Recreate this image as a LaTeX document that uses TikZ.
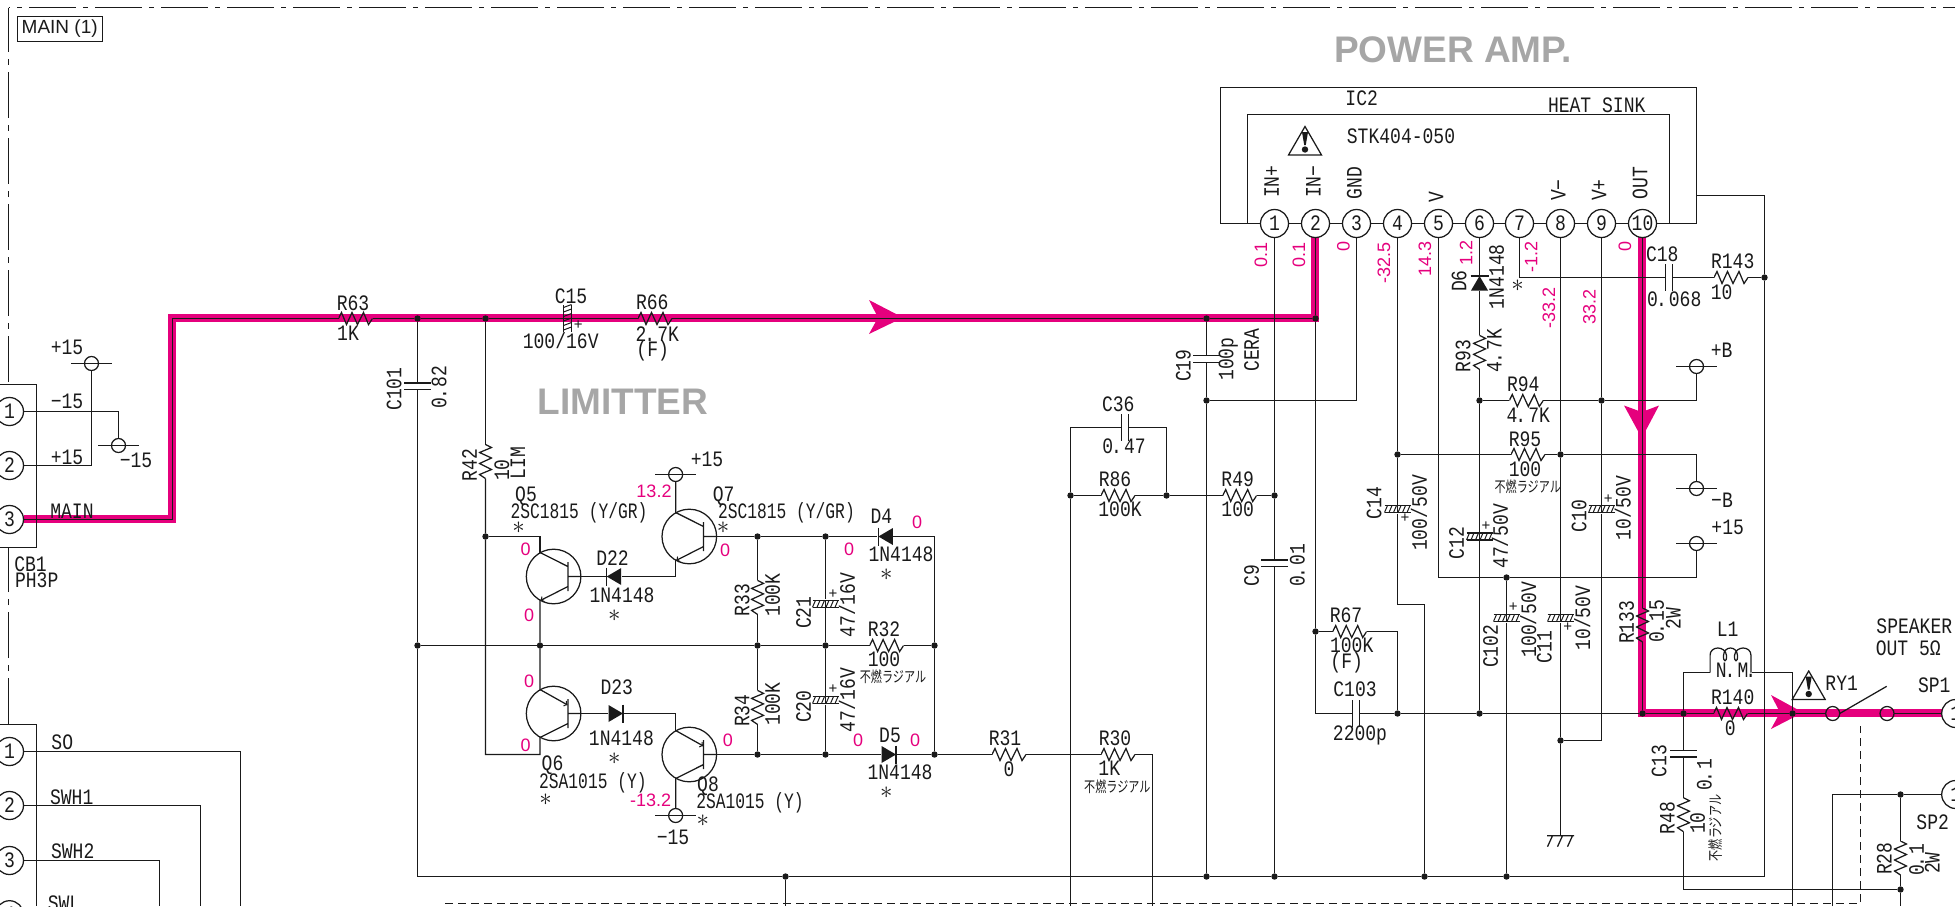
\documentclass[tikz,border=0pt]{standalone}
\usepackage{fontspec}
\newfontfamily\cadfont[FakeStretch=0.82]{Liberation Mono}
\newfontfamily\cadnarrow[FakeStretch=0.74]{Liberation Mono}
\newfontfamily\headfont{Liberation Sans}
\newfontfamily\cjkfont[FakeStretch=0.74]{Noto Sans CJK JP}
\definecolor{hlmag}{HTML}{E5007D}
\definecolor{headgray}{HTML}{A6A6A6}
\definecolor{inkc}{HTML}{1A1A1A}
\newcommand{\dsp}{\kern-2pt.\kern-3.4pt\ \kern-5.4pt}
\tikzset{
  pp/.style={path picture={\begin{scope}[shift={(path picture bounding box.center)}]#1\end{scope}}},
  part/.style={inner sep=0pt,outer sep=0pt},
  dot/.style={part,circle,fill,minimum size=6.4pt},
  pinc/.style={part,circle,draw,fill=white,minimum size=28pt,font=\cadfont\fontsize{22}{22}\selectfont},
  ringc/.style={part,circle,draw,minimum size=14pt},
  resh/.style={part,minimum width=34pt,minimum height=14pt,pp={\draw (-17,0) -- (-14,-6) -- (-9,6) -- (-3.5,-6) -- (2,6) -- (8,-6) -- (13,6) -- (17,0);}},
  resv/.style={part,minimum width=14pt,minimum height=34pt,pp={\draw (0,-17) -- (6,-14) -- (-6,-9) -- (6,-3.5) -- (-6,2) -- (6,8) -- (-6,13) -- (0,17);}},
  capv/.style={part,minimum width=28pt,minimum height=8pt,pp={\draw (-13.5,-3.3) -- (13.5,-3.3) (-13.5,3.3) -- (13.5,3.3);}},
  caph/.style={part,minimum width=8pt,minimum height=28pt,pp={\draw (-3.3,-13.5) -- (-3.3,13.5) (3.3,-13.5) -- (3.3,13.5);}},
  ecapv/.style={part,minimum width=28pt,minimum height=9pt,pp={\draw (-13,-3.5) -- (13,-3.5) (-13,3.5) -- (13,3.5) (0,-4) -- (0,4);
      \foreach \i in {-13,-8.5,...,11} {\draw[line width=1pt] (\i,3.5) -- (\i+3,-3.5);}}},
  ecaph/.style={part,minimum width=9pt,minimum height=28pt,pp={\draw (-4,-13.5) -- (-4,13.5) (4,-13.5) -- (4,13.5) (-4,0) -- (4,0);
      \foreach \i in {-11,-6.5,...,13} {\draw[line width=1pt] (-4,\i) -- (4,\i-3);}}},
  dior/.style={part,minimum width=16pt,minimum height=19pt,pp={\fill (-7.5,-8.5) -- (7,0) -- (-7.5,8.5) -- cycle; \draw (7,-9) -- (7,9);}},
  diol/.style={part,minimum width=16pt,minimum height=19pt,pp={\fill (7.5,-8.5) -- (-7,0) -- (7.5,8.5) -- cycle; \draw (-7,-9) -- (-7,9);}},
  diou/.style={part,minimum width=19pt,minimum height=16pt,pp={\fill (-8.5,7.5) -- (0,-7) -- (8.5,7.5) -- cycle; \draw (-9,-7) -- (9,-7) (0,-7) -- (0,7);}},
  tbar/.style={part,minimum width=41pt,minimum height=15.4pt,pp={\draw (0,0) circle (7); \draw (-20.3,0) -- (20.3,0);}},
  qnpn/.style={part,circle,draw,minimum size=54.6pt,pp={\draw (14.3,-14.5) -- (14.3,14.5) (14.3,0) -- (28,0) (14.3,-10) -- (-13.65,-24);
      \draw[->] (14.3,10) -- (-13.2,24);}},
  qpnp/.style={part,circle,draw,minimum size=54.6pt,pp={\draw (14.3,-14.5) -- (14.3,14.5) (14.3,0) -- (28,0) (14.3,10) -- (-13.65,24);
      \draw[->] (-13.65,-24) -- (14,-8.5);}},
  warn/.style={part,minimum width=35pt,minimum height=31pt,pp={\draw (-16.5,14) -- (0,-14.5) -- (16.5,14) -- cycle;
      \fill (-3,-9) -- (3,-9) -- (.8,4) -- (-.8,4) -- cycle; \fill (0,8.5) circle (3.2);}},
  gndc/.style={part,minimum width=28pt,minimum height=12pt,pp={\draw (-13.5,-5.5) -- (13.5,-5.5) (-8,-5.5) -- (-13,5.5) (2,-5.5) -- (-3,5.5) (12,-5.5) -- (7,5.5);}},
  coilc/.style={part,minimum width=42pt,minimum height=28pt,pp={\draw (-20.5,14) -- (-20.5,-3) .. controls (-20.5,-13) and (-5,-13) .. (-4,-3) .. controls (-3.5,4) and (-7.5,4) .. (-7,-3) .. controls (-6.5,-13) and (6.5,-13) .. (7,-3) .. controls (7.5,4) and (3.5,4) .. (4,-3) .. controls (5,-13) and (20.5,-13) .. (20.5,-3) -- (20.5,14);}},
  lbl/.style={part,font=\cadfont\fontsize{22}{22}\selectfont},
  lblv/.style={lbl,rotate=90},
  lblq/.style={part,font=\cadnarrow\fontsize{22}{22}\selectfont},
  volt/.style={part,text=hlmag,font=\headfont\fontsize{18}{18}\selectfont},
  voltv/.style={volt,rotate=90},
  headl/.style={part,text=headgray,font=\headfont\bfseries\fontsize{37}{37}\selectfont},
  jpl/.style={part,font=\cjkfont\fontsize{15}{15}\selectfont},
  jplv/.style={jpl,rotate=90},
  starl/.style={part,font=\fontsize{28}{28}\selectfont},
  plusl/.style={part,font=\headfont\fontsize{15}{15}\selectfont},
  hiline/.style={hlmag,line width=8pt,line join=miter},
}
\begin{document}
\begin{tikzpicture}[x=1pt,y=-1pt,line width=1.25pt,color=inkc]
  \clip (0,0) rectangle (1955,906);
  % highlighted signal path
  \coordinate (mg1) at (23.5,518.7);
  \coordinate (mg2) at (171.6,518.7);
  \coordinate (mg3) at (171.6,317.6);
  \coordinate (mg4) at (1314.6,317.6);
  \coordinate (mg5) at (1314.6,237);
  \coordinate (mg6) at (1641.8,237);
  \coordinate (mg7) at (1641.8,712.5);
  \coordinate (mg8) at (1941.7,712.5);
  \draw[hiline] (mg1) -- (mg2) -- (mg3) -- (mg4) -- (mg5);
  \draw[hiline] (mg6) -- (mg7) -- (mg8);
  \fill[hlmag] (869,300) -- (903,317.6) -- (869,334) -- (878,317.6) -- cycle;
  \fill[hlmag] (1624,405.5) -- (1641.8,438) -- (1659,405.5) -- (1641.8,412) -- cycle;
  \fill[hlmag] (1771,695) -- (1803,712.5) -- (1771,729) -- (1780,712.5) -- cycle;
  % frame
  \draw[dash pattern=on 46pt off 7pt on 6pt off 7pt,dash phase=1.5pt] (8.5,7.5) -- (8.5,384);
  \draw[dash pattern=on 47pt off 7pt on 5pt off 7pt,dash phase=45.5pt] (8.5,7.5) -- (1955,7.5);
  \draw[dash pattern=on 46pt off 7pt on 6pt off 7pt] (8.5,724) -- (8.5,547);
  \draw[dash pattern=on 8pt off 5pt] (445,903.5) -- (1860.5,903.5) -- (1860.5,726);
  \node[part,draw,line width=.9pt,minimum width=84.7pt,minimum height=25pt,font=\headfont\fontsize{19}{19}\selectfont] (tMain) at (59.7,28.5) {MAIN (1)};
  % connectors
  \coordinate (cbA) at (0,384.5);
  \coordinate (cbB) at (0,547.5);
  \coordinate (csA) at (0,724.5);
  \coordinate (csB) at (36.5,906);
  \draw (cbA) -- (36.5,384.5) |- (cbB);
  \draw (csA) -| (csB);
  \foreach \n/\y in {1/411.5,2/465.5,3/519.5} {\node[pinc] (cb\n) at (9.5,\y) {\n};}
  \foreach \n/\y in {1/751.5,2/805.5,3/860.5,4/914.7} {\node[pinc] (cs\n) at (9.5,\y) {\n};}
  % IC2
  \foreach \n/\x in {1/1274.5,2/1315.5,3/1356.5,4/1397.5,5/1438.5,6/1479.5,7/1519.5,8/1560.5,9/1601.5,10/1642.5} {\node[pinc] (ic\n) at (\x,223.5) {\n};}
  \foreach \a/\b in {1/2,2/3,3/4,4/5,5/6,6/7,7/8,8/9,9/10} {\draw (ic\a.east) -- (ic\b.west);}
  \coordinate (hsA) at (1220.5,87.5);
  \coordinate (hsB) at (1696.5,87.5);
  \coordinate (hsC) at (1247.5,114.5);
  \coordinate (hsD) at (1669.5,114.5);
  \draw (ic1.west) -| (hsA) -- (hsB) |- (ic10.east);
  \draw (ic1.west) -| (hsC) -- (hsD) |- (ic10.east);
  \node[warn] (wn1) at (1305,141) {};
  \node[warn] (wn2) at (1808.7,685.5) {};
  % junctions
  \node[dot] (j1) at (417.5,318.5) {};
  \node[dot] (j2) at (485.5,318.5) {};
  \node[dot] (j3) at (417.5,645.5) {};
  \node[dot] (j4) at (485.5,536.5) {};
  \node[dot] (jm) at (540,645.5) {};
  \node[dot] (j757a) at (757.5,536.5) {};
  \node[dot] (j825a) at (825.5,536.5) {};
  \node[dot] (j757m) at (757.5,645.5) {};
  \node[dot] (j825m) at (825.5,645.5) {};
  \node[dot] (j934m) at (934.5,645.5) {};
  \node[dot] (j757b) at (757.5,754.5) {};
  \node[dot] (j825b) at (825.5,754.5) {};
  \node[dot] (j934b) at (934.5,754.5) {};
  \node[dot] (jb785) at (785.5,876.5) {};
  \node[dot] (jb1206) at (1206.5,876.5) {};
  \node[dot] (jb1274) at (1274.5,876.5) {};
  \node[dot] (jb1424) at (1424.5,876.5) {};
  \node[dot] (jb1506) at (1506.5,876.5) {};
  \node[dot] (j1206a) at (1206.5,318.5) {};
  \node[dot] (j1315) at (1315.5,318.5) {};
  \node[dot] (j1206b) at (1206.5,400.5) {};
  \node[dot] (j1070) at (1070.5,495.5) {};
  \node[dot] (j1166) at (1166.5,495.5) {};
  \node[dot] (j1274) at (1274.5,495.5) {};
  \node[dot] (j1315b) at (1315.5,631.5) {};
  \node[dot] (j1397) at (1397.5,454.5) {};
  \node[dot] (j1397b) at (1397.5,713.5) {};
  \node[dot] (j1479a) at (1479.5,400.5) {};
  \node[dot] (j1479b) at (1479.5,713.5) {};
  \node[dot] (j1506) at (1506.5,577.5) {};
  \node[dot] (j1560a) at (1560.5,454.5) {};
  \node[dot] (j1560b) at (1560.5,740.5) {};
  \node[dot] (j1601) at (1601.5,400.5) {};
  \node[dot] (j1642) at (1642.5,713.5) {};
  \node[dot] (j1683) at (1683.5,713.5) {};
  \node[dot] (j1764) at (1764.5,277.5) {};
  \node[dot] (j1792) at (1792.5,713.5) {};
  \node[dot] (j1900a) at (1900.5,794.5) {};
  \node[dot] (j1900b) at (1900.5,889.5) {};
  % parts
  \node[resh] (r63) at (355.5,318.5) {};
  \node[resh] (r66) at (655,318.5) {};
  \node[resh] (r32) at (886.6,645.5) {};
  \node[resh] (r31) at (1009,754.5) {};
  \node[resh] (r30) at (1118,754.5) {};
  \node[resh] (r86) at (1118,495.5) {};
  \node[resh] (r49) at (1239.7,495.5) {};
  \node[resh] (r67) at (1349.7,631.5) {};
  \node[resh] (r94) at (1526.3,400.5) {};
  \node[resh] (r95) at (1528,454.5) {};
  \node[resh] (r143) at (1731,277.5) {};
  \node[resh] (r140) at (1730.5,713.5) {};
  \node[resv] (r42) at (485.5,461.5) {};
  \node[resv] (r33) at (757.5,597.4) {};
  \node[resv] (r34) at (757.5,707.4) {};
  \node[resv] (r93) at (1479.5,352.4) {};
  \node[resv] (r133) at (1642.5,625) {};
  \node[resv] (r48) at (1683.5,814.7) {};
  \node[resv] (r28) at (1900.5,858) {};
  \node[capv] (c101) at (417.5,386.4) {};
  \node[capv] (c19) at (1206.5,359) {};
  \node[capv] (c9) at (1274.5,563.4) {};
  \node[capv] (c13) at (1683.5,753.7) {};
  \node[caph] (c36) at (1125,427.5) {};
  \node[caph] (c18) at (1669,277.5) {};
  \node[caph] (c103) at (1356,713.5) {};
  \node[ecaph] (c15) at (567.5,318.5) {};
  \node[ecapv] (c21) at (825.5,603.8) {};
  \node[ecapv] (c20) at (825.5,700) {};
  \node[ecapv] (c14) at (1397.5,509) {};
  \node[ecapv] (c12) at (1479.5,536.4) {};
  \node[ecapv] (c102) at (1506.5,618) {};
  \node[ecapv] (c11) at (1560.5,618) {};
  \node[ecapv] (c10) at (1601.5,509.3) {};
  \node[diol] (d22) at (613.7,576.5) {};
  \node[dior] (d23) at (616,713.5) {};
  \node[diol] (d4) at (885.4,536.5) {};
  \node[dior] (d5) at (889,754.5) {};
  \node[diou] (d6) at (1479.5,283) {};
  \node[qnpn] (q5) at (553.6,576.5) {};
  \node[qpnp] (q6) at (553.6,713.5) {};
  \node[qnpn] (q7) at (689.3,536.5) {};
  \node[qpnp] (q8) at (689.3,754.5) {};
  \node[tbar] (tp1) at (91.5,363.5) {};
  \node[tbar] (tn1) at (118.5,445.5) {};
  \node[tbar] (tp2) at (675.65,474.5) {};
  \node[tbar] (tn2) at (675.65,815.5) {};
  \node[tbar] (tpb) at (1696.5,366.5) {};
  \node[tbar] (tnb) at (1696.5,488.5) {};
  \node[tbar] (tp3) at (1696.5,543.5) {};
  \node[gndc] (gnd1) at (1560.5,841.2) {};
  \node[coilc] (l1) at (1730.5,658.5) {};
  \node[ringc] (ry1) at (1832.7,713.5) {};
  \node[ringc] (ry2) at (1887,713.5) {};
  \node[pinc] (sp1) at (1955.7,713.5) {1};
  \node[pinc] (sp2) at (1955.7,794.5) {1};
  % free ends
  \coordinate (e240) at (240.5,906);
  \coordinate (e200) at (200.5,906);
  \coordinate (e159) at (159.5,906);
  \coordinate (e785) at (785.5,906);
  \coordinate (e1070) at (1070.5,906);
  \coordinate (e1152) at (1152.5,906);
  \coordinate (e1792) at (1792.5,906);
  \coordinate (e1832) at (1832.5,906);
  \coordinate (e1900) at (1900.5,906);
  \coordinate (k1) at (172.5,519.5);
  \coordinate (kL) at (417.5,876.5);
  \coordinate (kR) at (1764.5,876.5);
  \coordinate (kT) at (1764.5,195.5);
  \coordinate (kH) at (1696.5,195.5);
  \coordinate (k6) at (539.95,754.5);
  \coordinate (k14) at (1397.5,604.5);
  \coordinate (k9) at (1601.5,740.5);
  \coordinate (kA) at (1886.7,686.3);
  % wires
  \draw (cb1.east) -| (tn1.north);
  \draw (tp1.south) |- (cb2.east);
  \draw (cb3.east) -- (k1) |- (r63.west);
  \draw (r63.east) -- (j1) -- (j2) -- (c15.west);
  \draw (c15.east) -- (r66.west);
  \draw (r66.east) -- (j1206a) -- (j1315) -- (ic2.south);
  \draw (cs1.east) -| (e240);
  \draw (cs2.east) -| (e200);
  \draw (cs3.east) -| (e159);
  \draw (j1) -- (c101.north);
  \draw (c101.south) -- (j3) -- (kL) -- (jb785) -- (jb1206) -- (jb1274) -- (jb1424) -- (jb1506) -- (kR) -- (j1764) -- (kT) -- (kH);
  \draw (jb785) -- (e785);
  \draw (j2) -- (r42.north);
  \draw (r42.south) -- (j4) |- (k6) -- (q6.240);
  \draw (j4) -| (q5.120);
  \draw (q5.240) -- (jm) -- (q6.120);
  \draw (j3) -- (jm) -- (j757m) -- (j825m) -- (r32.west);
  \draw (r32.east) -- (j934m);
  \draw (q5.east) -- (d22.west);
  \draw (d22.east) -| (q7.240);
  \draw (q7.120) -- (tp2.south);
  \draw (q6.east) -- (d23.west);
  \draw (d23.east) -| (q8.120);
  \draw (q8.240) -- (tn2.north);
  \draw (q7.east) -- (j757a) -- (j825a) -- (d4.west);
  \draw (d4.east) -| (j934m);
  \draw (j934m) -- (j934b);
  \draw (q8.east) -- (j757b) -- (j825b) -- (d5.west);
  \draw (d5.east) -- (j934b) -- (r31.west);
  \draw (r31.east) -- (r30.west);
  \draw (r30.east) -| (e1152);
  \draw (j757a) -- (r33.north);
  \draw (r33.south) -- (j757m) -- (r34.north);
  \draw (r34.south) -- (j757b);
  \draw (j825a) -- (c21.north);
  \draw (c21.south) -- (j825m) -- (c20.north);
  \draw (c20.south) -- (j825b);
  \draw (e1070) -- (j1070) |- (c36.west);
  \draw (c36.east) -| (j1166);
  \draw (j1070) -- (r86.west);
  \draw (r86.east) -- (j1166) -- (r49.west);
  \draw (r49.east) -- (j1274);
  \draw (j1206a) -- (c19.north);
  \draw (c19.south) -- (j1206b) -- (jb1206);
  \draw (ic3.south) |- (j1206b);
  \draw (ic1.south) -- (j1274) -- (c9.north);
  \draw (c9.south) -- (jb1274);
  \draw (j1315) -- (j1315b) |- (c103.west);
  \draw (j1315b) -- (r67.west);
  \draw (r67.east) -| (j1397b);
  \draw (c103.east) -- (j1397b) -- (j1479b) -- (j1642) -- (j1683) -- (r140.west);
  \draw (r140.east) -- (j1792) -- (ry1.west);
  \draw (ry2.east) -- (sp1.west);
  \draw (ry1.east) -- (kA);
  \draw (ic4.south) -- (j1397) -- (c14.north);
  \draw (c14.south) -- (k14) -| (jb1424);
  \draw (j1397) -- (r95.west);
  \draw (r95.east) -- (j1560a) -| (tnb.north);
  \draw (ic5.south) |- (j1506) -| (tp3.south);
  \draw (j1506) -- (c102.north);
  \draw (c102.south) -- (jb1506);
  \draw (ic6.south) -- (d6.north);
  \draw (d6.south) -- (r93.north);
  \draw (r93.south) -- (j1479a) -- (c12.north);
  \draw (c12.south) -- (j1479b);
  \draw (j1479a) -- (r94.west);
  \draw (r94.east) -- (j1601) -| (tpb.south);
  \draw (ic7.south) |- (c18.west);
  \draw (c18.east) -- (r143.west);
  \draw (r143.east) -- (j1764);
  \draw (ic8.south) -- (j1560a) -- (c11.north);
  \draw (c11.south) -- (j1560b) -- (gnd1.north);
  \draw (ic9.south) -- (j1601) -- (c10.north);
  \draw (c10.south) -- (k9) -- (j1560b);
  \draw (ic10.south) -- (r133.north);
  \draw (r133.south) -- (j1642);
  \draw (j1683) |- (l1.south west);
  \draw (l1.south east) -| (j1792);
  \draw (j1792) -- (e1792);
  \draw (j1683) -- (c13.north);
  \draw (c13.south) -- (r48.north);
  \draw (r48.south) |- (j1900b);
  \draw (j1900b) -- (e1900);
  \draw (j1900b) -- (r28.south);
  \draw (r28.north) -- (j1900a) -- (sp2.west);
  \draw (e1832) |- (j1900a);
  % headings
  \node[headl] (tPower) at (1453,50) {POWER AMP.};
  \node[headl] (tLim) at (623,402) {LIMITTER};
  % left side labels
  \node[lbl] (tM15) at (67,401.7) {−15};
  \node[lbl] (tP15) at (67,347) {+15};
  \node[lbl] (tP15b) at (67,457) {+15};
  \node[lbl] (tN15) at (136,460) {−15};
  \node[lbl] (tMn) at (72,511) {MAIN};
  \node[lbl] (tCb) at (30.5,564) {CB1};
  \node[lbl] (tPh) at (36.7,580) {PH3P};
  \node[lbl] (tSo) at (62.3,742.3) {SO};
  \node[lbl] (tSw1) at (71.7,797) {SWH1};
  \node[lbl] (tSw2) at (72.7,851.3) {SWH2};
  \node[lbl] (tSwl) at (64,903) {SWL};
  % upper row labels
  \node[lbl] (tR63) at (353,303) {R63};
  \node[lbl] (t1K) at (348,333) {1K};
  \node[lbl] (tC15) at (571,296) {C15};
  \node[plusl] (tpC15) at (578.3,325) {+};
  \node[lbl] (tV15) at (560.7,340.7) {100/16V};
  \node[lbl] (tR66) at (652.3,302.3) {R66};
  \node[lbl] (t27K) at (657.3,334) {2\dsp 7K};
  \node[lbl] (tF66) at (652.7,350.5) {(F)};
  \node[lblv] (tC101) at (394,389) {C101};
  \node[lblv] (t082) at (439,387) {0\dsp 82};
  \node[lblv] (tR42) at (469.6,465) {R42};
  \node[lblv] (t10) at (501.8,470) {10};
  \node[lblv] (tLm) at (517.9,463) {LIM};
  % limiter labels
  \node[lbl] (tQ5) at (526,496.7) {Q5};
  \node[lblq] (tQ5t) at (579,513) {2SC1815 (Y/GR)};
  \node[starl] (sQ5) at (518.6,527.7) {$\ast$};
  \node[lbl] (tD22) at (612.5,558) {D22};
  \node[lbl] (tD22t) at (622,595) {1N4148};
  \node[starl] (sD22) at (614.3,616) {$\ast$};
  \node[lbl] (tQ7) at (723.6,496.7) {Q7};
  \node[lblq] (tQ7t) at (786.4,513) {2SC1815 (Y/GR)};
  \node[starl] (sQ7) at (723,527.7) {$\ast$};
  \node[lbl] (tD4) at (881.4,516.7) {D4};
  \node[lbl] (tD4t) at (901,554) {1N4148};
  \node[starl] (sD4) at (886.4,575) {$\ast$};
  \node[lbl] (tP15c) at (707,459) {+15};
  \node[lblv] (tR33) at (742,600) {R33};
  \node[lblv] (t100k) at (772.5,595) {100K};
  \node[lblv] (tC21) at (803.6,612.7) {C21};
  \node[plusl] (tpC21) at (832.9,594) {+};
  \node[lblv] (tV21) at (847,605) {47/16V};
  \node[lbl] (tR32) at (884,629) {R32};
  \node[lbl] (t100) at (884,659) {100};
  \node[jpl] (jR32) at (893,677) {不燃ラジアル};
  \node[lblv] (tR34) at (742,710.7) {R34};
  \node[lblv] (t100kb) at (772.5,704) {100K};
  \node[lblv] (tC20) at (803.6,706.7) {C20};
  \node[plusl] (tpC20) at (832.9,689) {+};
  \node[lblv] (tV20) at (847,700) {47/16V};
  \node[lbl] (tD23) at (616.8,687) {D23};
  \node[lbl] (tD23t) at (621.4,738) {1N4148};
  \node[starl] (sD23) at (614.3,759) {$\ast$};
  \node[lbl] (tQ6) at (552.5,765) {Q6};
  \node[lblq] (tQ6t) at (592.9,782.7) {2SA1015 (Y)};
  \node[starl] (sQ6) at (545.7,800) {$\ast$};
  \node[lbl] (tQ8) at (708,786) {Q8};
  \node[lblq] (tQ8t) at (750,803) {2SA1015 (Y)};
  \node[starl] (sQ8) at (702.9,820.7) {$\ast$};
  \node[lbl] (tN15b) at (673,837) {−15};
  \node[lbl] (tD5) at (890,735) {D5};
  \node[lbl] (tD5t) at (900,772) {1N4148};
  \node[starl] (sD5) at (886.4,793) {$\ast$};
  \node[lbl] (tR31) at (1005,738) {R31};
  \node[lbl] (t0r31) at (1009,769) {0};
  \node[lbl] (tR30) at (1115,738) {R30};
  \node[lbl] (t1Kb) at (1109.3,768) {1K};
  \node[jpl] (jR30) at (1117.3,786.3) {不燃ラジアル};
  % voltages
  \node[volt] (v1) at (525.7,549) {0};
  \node[volt] (v2) at (529,615.7) {0};
  \node[volt] (v3) at (529,681.7) {0};
  \node[volt] (v4) at (525.7,745) {0};
  \node[volt] (v5) at (654,491.7) {13.2};
  \node[volt] (v6) at (725,550.7) {0};
  \node[volt] (v7) at (727.9,740.7) {0};
  \node[volt] (v8) at (650.7,800.7) {-13.2};
  \node[volt] (v9) at (849,549) {0};
  \node[volt] (v10) at (917,522.7) {0};
  \node[volt] (v11) at (858,740.7) {0};
  \node[volt] (v12) at (915,740.7) {0};
  \node[voltv] (v13) at (1261,255) {0.1};
  \node[voltv] (v14) at (1299,255) {0.1};
  \node[voltv] (v15) at (1343.3,246.7) {0};
  \node[voltv] (v16) at (1384,262.7) {-32.5};
  \node[voltv] (v17) at (1425,259) {14.3};
  \node[voltv] (v18) at (1466,253.3) {1.2};
  \node[voltv] (v19) at (1531,257.3) {-1.2};
  \node[voltv] (v20) at (1549,307.7) {-33.2};
  \node[voltv] (v21) at (1589.3,306.7) {33.2};
  \node[voltv] (v22) at (1625,246.7) {0};
  % IC labels
  \node[lbl] (tIC) at (1361.7,98.3) {IC2};
  \node[lbl] (tStk) at (1401,136) {STK404-050};
  \node[lbl] (tHeat) at (1596.7,105.7) {HEAT SINK};
  \node[lblv] (tIp) at (1271.7,181.7) {IN+};
  \node[lblv] (tIn) at (1313.3,181.7) {IN−};
  \node[lblv] (tGnd) at (1354.3,183.3) {GND};
  \node[lblv] (tV) at (1436,196.7) {V};
  \node[lblv] (tVn) at (1558.3,190) {V−};
  \node[lblv] (tVp) at (1599,190) {V+};
  \node[lblv] (tOut) at (1640,183.3) {OUT};
  % power amp labels
  \node[lblv] (tC19) at (1183.3,365.7) {C19};
  \node[lblv] (t100p) at (1228.3,359) {100p};
  \node[lblv] (tCera) at (1251.7,350) {CERA};
  \node[lbl] (tC36) at (1118.3,404) {C36};
  \node[lbl] (t047) at (1124,446.7) {0\dsp 47};
  \node[lbl] (tR86) at (1115,479.7) {R86};
  \node[lbl] (t100k86) at (1120,509.7) {100K};
  \node[lbl] (tR49) at (1237.7,479.7) {R49};
  \node[lbl] (t10049) at (1237.7,509.7) {100};
  \node[lblv] (tC9) at (1251.7,575.7) {C9};
  \node[lblv] (t001) at (1297.3,565.3) {0\dsp 01};
  \node[lbl] (tR67) at (1346,615.7) {R67};
  \node[lbl] (t100k67) at (1351.7,645.7) {100K};
  \node[lbl] (tF67) at (1346.7,663) {(F)};
  \node[lbl] (tC103) at (1355,689.7) {C103};
  \node[lbl] (t2200) at (1360,735) {2200p};
  \node[lblv] (tC14) at (1374,503) {C14};
  \node[plusl] (tpC14) at (1405,518) {+};
  \node[lblv] (tV14) at (1419,513) {100/50V};
  \node[lblv] (tD6) at (1459,281) {D6};
  \node[lblv] (tD6t) at (1496.7,276.7) {1N4148};
  \node[lblv] (tR93) at (1463,356) {R93};
  \node[lblv] (t47k) at (1494.3,350.7) {4\dsp 7K};
  \node[lbl] (tR94) at (1523.3,384) {R94};
  \node[lbl] (t47kb) at (1528.3,415) {4\dsp 7K};
  \node[lbl] (tR95) at (1525,439) {R95};
  \node[lbl] (t10095) at (1525,469.3) {100};
  \node[jpl] (jR95) at (1527.7,486.7) {不燃ラジアル};
  \node[starl] (sD7) at (1517.7,285.7) {$\ast$};
  \node[lbl] (tC18) at (1662.3,254.3) {C18};
  \node[lbl] (t068) at (1674.3,299.3) {0\dsp 068};
  \node[lbl] (tR143) at (1732.7,261.7) {R143};
  \node[lbl] (t10143) at (1721.7,292.3) {10};
  \node[lbl] (tPb) at (1721.7,350) {+B};
  \node[lbl] (tNb) at (1722,500) {−B};
  \node[lbl] (tP15d) at (1727.7,527) {+15};
  \node[lblv] (tC12) at (1456.7,543) {C12};
  \node[plusl] (tpC12) at (1486,525.7) {+};
  \node[lblv] (tV12) at (1500,536.3) {47/50V};
  \node[lblv] (tC10) at (1579,516.3) {C10};
  \node[plusl] (tpC10) at (1608.3,499) {+};
  \node[lblv] (tV10) at (1622.7,508) {10/50V};
  \node[lblv] (tC102) at (1490.7,646.3) {C102};
  \node[plusl] (tpC102) at (1513.3,607.3) {+};
  \node[lblv] (tV102) at (1528.3,619.7) {100/50V};
  \node[lblv] (tC11) at (1544.3,647) {C11};
  \node[plusl] (tpC11) at (1567.7,627) {+};
  \node[lblv] (tV11) at (1582.3,618) {10/50V};
  \node[lblv] (tR133) at (1626.7,622.3) {R133};
  \node[lblv] (t015) at (1656.7,621.3) {0\dsp 15};
  \node[lblv] (t2W) at (1673.3,618.7) {2W};
  \node[lbl] (tL1) at (1727.7,629.7) {L1};
  \node[lbl] (tNm) at (1736,670.3) {N\dsp M\kern-3pt.};
  \node[lbl] (tR140) at (1732.7,697.3) {R140};
  \node[lbl] (t0140) at (1730.3,728) {0};
  \node[lblv] (tC13) at (1659,761.3) {C13};
  \node[lblv] (t01) at (1704.3,774.7) {0\dsp 1};
  \node[lblv] (tR48) at (1667.3,818) {R48};
  \node[lblv] (t1048) at (1697.7,823) {10};
  \node[jplv] (jR48) at (1715,828) {不燃ラジアル};
  \node[lbl] (tRy) at (1841.7,683.7) {RY1};
  \node[lbl] (tSpk) at (1914.3,626.3) {SPEAKER};
  \node[lbl] (tOut5) at (1908.3,648) {OUT 5Ω};
  \node[lbl] (tSp1) at (1934.3,685.3) {SP1};
  \node[lbl] (tSp2) at (1932.7,822) {SP2};
  \node[lblv] (tR28) at (1884.3,858.7) {R28};
  \node[lblv] (t01b) at (1916.7,859.7) {0\dsp 1};
  \node[lblv] (t2Wb) at (1932.3,863) {2W};
\end{tikzpicture}
\end{document}
